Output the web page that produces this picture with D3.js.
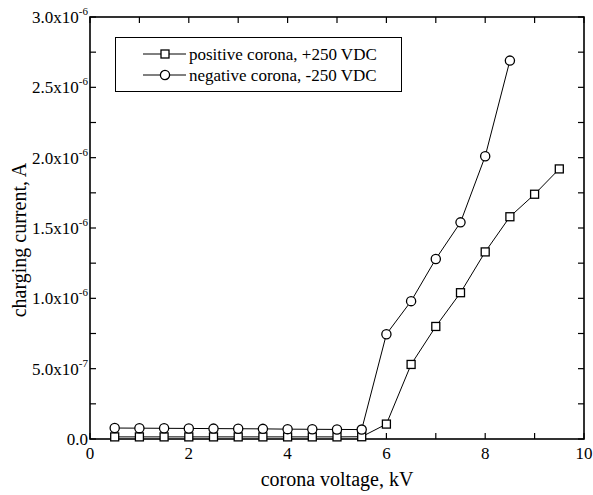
<!DOCTYPE html>
<html lang="en">
<head>
    <meta charset="UTF-8">
    <title>Charging current vs corona voltage</title>
    <script src="https://d3js.org/d3.v7.min.js"></script>
    <style>
        body { margin: 0; background: #fff; }
    </style>
</head>
<body>
    <div id="chart"></div>
    <script>
        // data (kV, A)
        const posVoltage = [0.5, 1, 1.5, 2, 2.5, 3, 3.5, 4, 4.5, 5, 5.5, 6, 6.5, 7, 7.5, 8, 8.5, 9, 9.5];
        const posCurrent = [1.5e-8, 1.5e-8, 1.5e-8, 1.5e-8, 1.5e-8, 1.5e-8, 1.5e-8, 1.5e-8, 1.5e-8, 1.5e-8, 1.6e-8,
                            1.06e-7, 5.3e-7, 8.0e-7, 1.04e-6, 1.33e-6, 1.58e-6, 1.74e-6, 1.92e-6];
        const negVoltage = [0.5, 1, 1.5, 2, 2.5, 3, 3.5, 4, 4.5, 5, 5.5, 6, 6.5, 7, 7.5, 8, 8.5];
        const negCurrent = [7.8e-8, 7.7e-8, 7.6e-8, 7.5e-8, 7.4e-8, 7.3e-8, 7.2e-8, 7.0e-8, 6.9e-8, 6.8e-8, 6.7e-8,
                            7.45e-7, 9.8e-7, 1.28e-6, 1.54e-6, 2.01e-6, 2.69e-6];
        const legendLabels = ["positive corona, +250 VDC", "negative corona, -250 VDC"];
        const yTickValues = [0, 5e-7, 1e-6, 1.5e-6, 2e-6, 2.5e-6, 3e-6];
        const yTickMant = ["0.0", "5.0x10", "1.0x10", "1.5x10", "2.0x10", "2.5x10", "3.0x10"];
        const yTickExp = ["", "-7", "-6", "-6", "-6", "-6", "-6"];

        const width = 593, height = 495;
        const svg = d3.select("#chart").append("svg")
            .attr("width", width)
            .attr("height", height)
            .attr("font-family", "'Liberation Serif', 'Times New Roman', 'DejaVu Serif', serif");

        const x = d3.scaleLinear().domain([0, 10]).range([90, 584]);
        const y = d3.scaleLinear().domain([0, 3e-6]).range([439, 17]);

        // ticks on all four sides, pointing inward
        const xMajor = d3.range(0, 11, 2);
        const xMinor = d3.range(1, 10, 2);
        const yMinor = d3.range(2.5e-7, 3e-6, 5e-7);

        const ticks = svg.append("g").attr("stroke", "#000").attr("stroke-width", 1.2);
        ticks.selectAll(".xb").data(xMajor.concat(xMinor)).join("line")
            .attr("x1", d => x(d)).attr("x2", d => x(d))
            .attr("y1", y(0)).attr("y2", y(0) - 6);
        ticks.selectAll(".xt").data(xMajor.concat(xMinor)).join("line")
            .attr("x1", d => x(d)).attr("x2", d => x(d))
            .attr("y1", y(3e-6)).attr("y2", y(3e-6) + 6);
        ticks.selectAll(".yl").data(yTickValues.concat(yMinor)).join("line")
            .attr("x1", x(0)).attr("x2", x(0) + 6)
            .attr("y1", d => y(d)).attr("y2", d => y(d));
        ticks.selectAll(".yr").data(yTickValues.concat(yMinor)).join("line")
            .attr("x1", x(10)).attr("x2", x(10) - 6)
            .attr("y1", d => y(d)).attr("y2", d => y(d));

        // frame
        svg.append("rect")
            .attr("x", x(0)).attr("y", y(3e-6))
            .attr("width", x(10) - x(0)).attr("height", y(0) - y(3e-6))
            .attr("fill", "none").attr("stroke", "#000").attr("stroke-width", 1.6);

        // x tick labels
        svg.append("g").selectAll("text").data(xMajor).join("text")
            .attr("x", d => x(d)).attr("y", 459)
            .attr("text-anchor", "middle")
            .attr("font-size", 17)
            .text(d => d);

        // y tick labels with superscript exponent
        const yl = svg.append("g").selectAll("text").data(yTickValues).join("text")
            .attr("x", 88).attr("y", d => y(d) + 6)
            .attr("text-anchor", "end")
            .attr("font-size", 17);
        yl.append("tspan").text((d, i) => yTickMant[i]);
        yl.append("tspan")
            .attr("font-size", 11)
            .attr("dy", -8)
            .text((d, i) => yTickExp[i]);

        // axis titles
        svg.append("text")
            .attr("x", (x(0) + x(10)) / 2).attr("y", 486)
            .attr("text-anchor", "middle")
            .attr("font-size", 20)
            .text("corona voltage, kV");
        svg.append("text")
            .attr("transform", "translate(26,240) rotate(-90)")
            .attr("text-anchor", "middle")
            .attr("font-size", 20)
            .text("charging current, A");

        const pos = posVoltage.map((v, i) => ({ v: v, c: posCurrent[i] }));
        const neg = negVoltage.map((v, i) => ({ v: v, c: negCurrent[i] }));
        const line = d3.line().x(d => x(d.v)).y(d => y(d.c));

        svg.append("path").datum(pos).attr("d", line)
            .attr("fill", "none").attr("stroke", "#000").attr("stroke-width", 1);
        svg.append("path").datum(neg).attr("d", line)
            .attr("fill", "none").attr("stroke", "#000").attr("stroke-width", 1);

        svg.append("g").selectAll("rect").data(pos).join("rect")
            .attr("x", d => x(d.v) - 4).attr("y", d => y(d.c) - 4)
            .attr("width", 8).attr("height", 8)
            .attr("fill", "#fff").attr("stroke", "#000").attr("stroke-width", 1.3);
        svg.append("g").selectAll("circle").data(neg).join("circle")
            .attr("cx", d => x(d.v)).attr("cy", d => y(d.c))
            .attr("r", 4.6)
            .attr("fill", "#fff").attr("stroke", "#000").attr("stroke-width", 1.3);

        // legend
        const lg = svg.append("g");
        lg.append("rect")
            .attr("x", 115.5).attr("y", 37.5).attr("width", 286).attr("height", 54)
            .attr("fill", "#fff").attr("stroke", "#000").attr("stroke-width", 1);
        const rows = lg.selectAll("g").data(legendLabels).join("g")
            .attr("transform", (d, i) => `translate(0,${54 + i * 21})`);
        rows.append("line")
            .attr("x1", 143).attr("x2", 186).attr("y1", 0).attr("y2", 0)
            .attr("stroke", "#000").attr("stroke-width", 1);
        rows.filter((d, i) => i === 0).append("rect")
            .attr("x", 161).attr("y", -4).attr("width", 8).attr("height", 8)
            .attr("fill", "#fff").attr("stroke", "#000").attr("stroke-width", 1.3);
        rows.filter((d, i) => i === 1).append("circle")
            .attr("cx", 165).attr("cy", 0).attr("r", 4.6)
            .attr("fill", "#fff").attr("stroke", "#000").attr("stroke-width", 1.3);
        rows.append("text")
            .attr("x", 189).attr("y", 5.5)
            .attr("font-size", 17)
            .text(d => d);
    </script>
</body>
</html>
